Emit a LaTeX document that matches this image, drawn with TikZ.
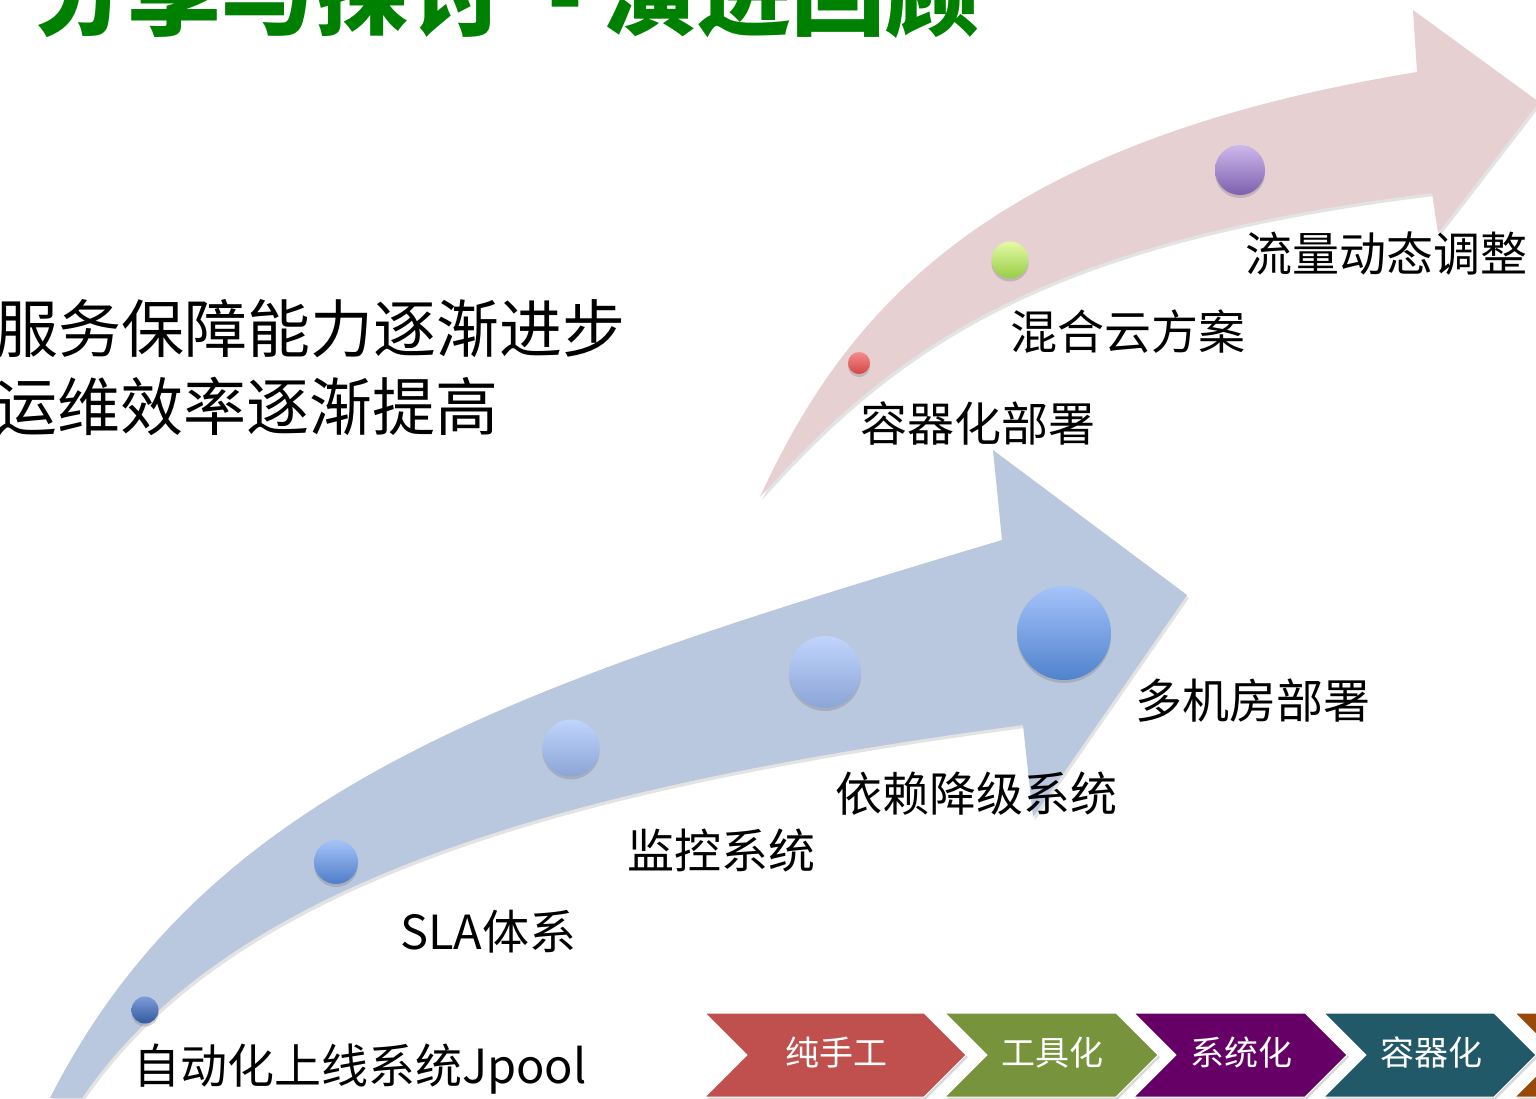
\documentclass[tikz,border=0pt]{standalone}
\usepackage{fontspec}
\newfontfamily\cjk{Noto Sans CJK SC}
\usetikzlibrary{shadows}
\definecolor{arrowblue}{RGB}{185,199,223}
\definecolor{arrowpink}{RGB}{230,208,209}
\definecolor{titlegreen}{RGB}{0,128,0}
\definecolor{chevred}{RGB}{192,80,77}
\definecolor{chevgreen}{RGB}{119,147,60}
\definecolor{chevpurple}{RGB}{102,0,102}
\definecolor{chevteal}{RGB}{33,89,104}
\definecolor{chevorange}{RGB}{152,72,7}
\begin{document}
\begin{tikzpicture}[x=1pt,y=-1pt,
  lbl/.style={anchor=base west, inner sep=0pt, text=black, font=\cjk\fontsize{47}{50}\selectfont},
  bigtxt/.style={anchor=base west, inner sep=0pt, text=black, font=\cjk\fontsize{63}{66}\selectfont},
  chevtxt/.style={anchor=base, inner sep=0pt, text=white, font=\cjk\fontsize{34}{36}\selectfont},
  bubble/.style={circle, inner sep=0pt, minimum size=#1, drop shadow={opacity=0.35, shadow xshift=0pt, shadow yshift=-3pt}},
  arrowshape/.style={fill=#1, draw=none, drop shadow={opacity=0.22, shadow xshift=2pt, shadow yshift=-3pt}},
  chev/.style={fill=#1, draw=white, line width=1pt, drop shadow={opacity=0.3, shadow xshift=2pt, shadow yshift=-2pt}},
]
\useasboundingbox (0,0) rectangle (1536,1098);
\clip (0,0) rectangle (1536,1098);
\fill[white] (0,0) rectangle (1536,1098);

% title (cut at the top)
\node[anchor=base west, inner sep=0pt, text=titlegreen, font=\cjk\bfseries\fontsize{94}{100}\selectfont] (title) at (33,28) {分享与探讨\hspace{44pt}-\hspace{20pt}演进回顾};

% blue arrow
\path[arrowshape=arrowblue] (50,1098) .. controls (210,783) and (522,684) .. (1002,540)
  -- (993,450) -- (1187,595) -- (1033,817) -- (1023,725)
  .. controls (573,785) and (232,878) .. (82,1098) -- cycle;

% pink arrow
\path[arrowshape=arrowpink] (760,497) .. controls (850,300) and (1000,140) .. (1417,72)
  -- (1413,10) -- (1539,102) -- (1438,233) -- (1432,193)
  .. controls (1050,240) and (900,340) .. (760,497) -- cycle;

% blue bubbles
\node[bubble=27pt, top color={rgb,255:red,125;green,155;blue,215}, bottom color={rgb,255:red,50;green,90;blue,160}] (b1) at (145,1010) {};
\node[bubble=44pt, top color={rgb,255:red,165;green,195;blue,248}, bottom color={rgb,255:red,80;green,125;blue,200}] (b2) at (336,862) {};
\node[bubble=57pt, top color={rgb,255:red,192;green,212;blue,252}, bottom color={rgb,255:red,140;green,165;blue,215}] (b3) at (571,748) {};
\node[bubble=72pt, top color={rgb,255:red,192;green,212;blue,252}, bottom color={rgb,255:red,140;green,165;blue,215}] (b4) at (825,672) {};
\node[bubble=94pt, top color={rgb,255:red,165;green,195;blue,250}, bottom color={rgb,255:red,80;green,130;blue,205}] (b5) at (1064,633) {};

% pink arrow bubbles
\node[bubble=22pt, top color={rgb,255:red,245;green,140;blue,140}, bottom color={rgb,255:red,210;green,70;blue,70}] (p1) at (859,363) {};
\node[bubble=37pt, top color={rgb,255:red,228;green,250;blue,165}, bottom color={rgb,255:red,150;green,205;blue,70}] (p2) at (1010,260) {};
\node[bubble=50pt, top color={rgb,255:red,205;green,185;blue,235}, bottom color={rgb,255:red,125;green,95;blue,175}] (p3) at (1240,170) {};

% left statement
\node[bigtxt] (s1) at (-5,352) {服务保障能力逐渐进步};
\node[bigtxt] (s2) at (-6,430) {运维效率逐渐提高};

% blue arrow labels
\node[lbl] (l1) at (133,1083) {自动化上线系统Jpool};
\node[lbl] (l2) at (400,949) {SLA体系};
\node[lbl] (l3) at (627,868) {监控系统};
\node[lbl] (l4) at (835,811) {依赖降级系统};
\node[lbl] (l5) at (1135,718) {多机房部署};

% pink arrow labels
\node[lbl] (m1) at (860,441) {容器化部署};
\node[lbl] (m2) at (1010,349) {混合云方案};
\node[lbl] (m3) at (1245,271) {流量动态调整};

% chevrons
\path[chev=chevorange] (1515,1013) -- (1690,1013) -- (1732,1055) -- (1690,1097) -- (1515,1097) -- (1557,1055) -- cycle;
\path[chev=chevteal] (1324,1013) -- (1494,1013) -- (1536,1055) -- (1494,1097) -- (1324,1097) -- (1366,1055) -- cycle;
\path[chev=chevpurple] (1134,1013) -- (1305,1013) -- (1347,1055) -- (1305,1097) -- (1134,1097) -- (1176,1055) -- cycle;
\path[chev=chevgreen] (945,1013) -- (1116,1013) -- (1158,1055) -- (1116,1097) -- (945,1097) -- (987,1055) -- cycle;
\path[chev=chevred] (705,1013) -- (924,1013) -- (966,1055) -- (924,1097) -- (705,1097) -- (747,1055) -- cycle;

\node[chevtxt] (c1) at (836,1065) {纯手工};
\node[chevtxt] (c2) at (1052,1065) {工具化};
\node[chevtxt] (c3) at (1241,1065) {系统化};
\node[chevtxt] (c4) at (1431,1065) {容器化};
\end{tikzpicture}
\end{document}
